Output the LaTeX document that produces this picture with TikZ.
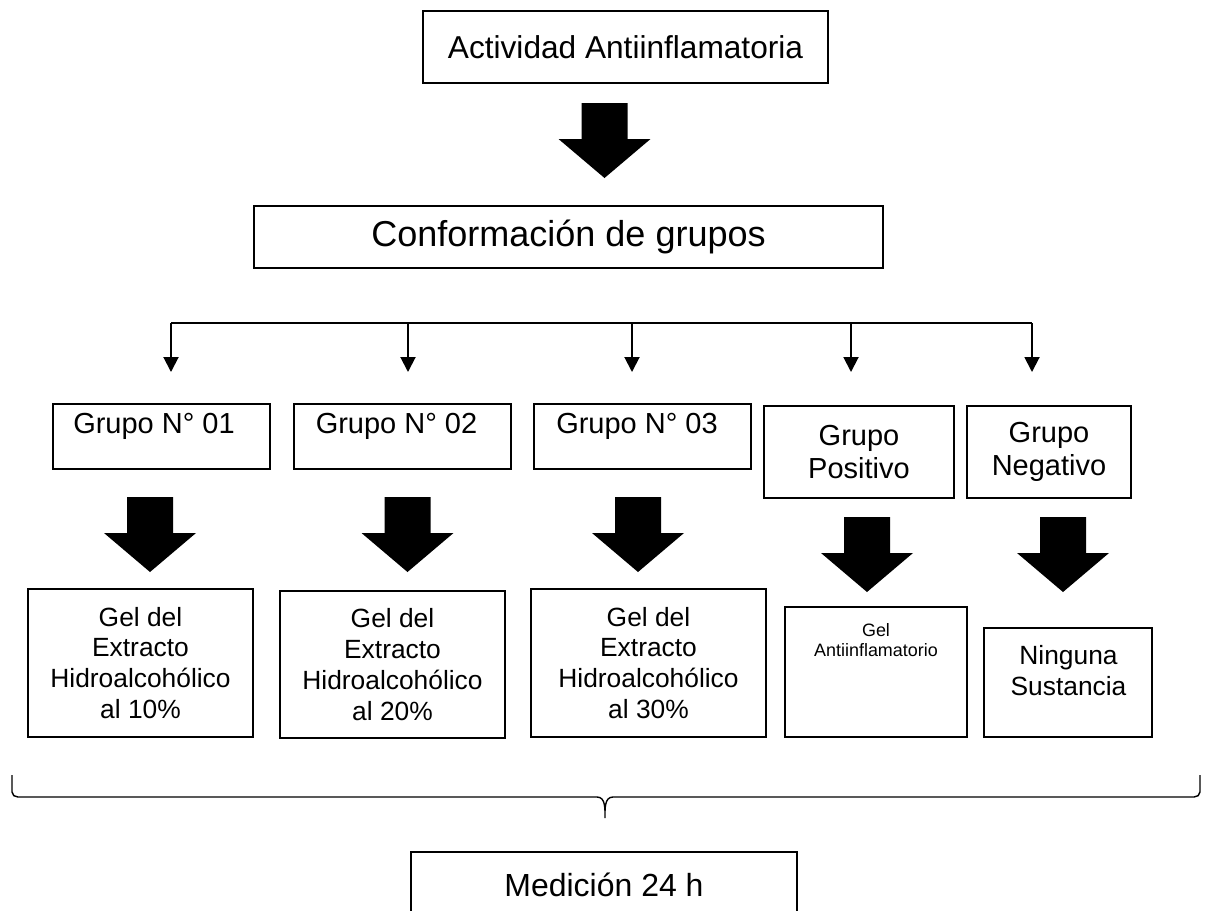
\documentclass[tikz,border=0pt]{standalone}
\usepackage{fontspec}
\setmainfont{Liberation Sans}
\usepackage{tikz}
\usetikzlibrary{positioning, arrows.meta}

\tikzset{
  box/.style={draw, line width=0.8pt, inner sep=0pt, align=center},
  grp/.style={font=\fontsize{16.5}{18.7}\selectfont, align=center, inner sep=0pt},
  gel/.style={font=\fontsize{15}{17.6}\selectfont},
  thinarrow/.style={-{Triangle[width=3mm,length=3mm]}, line width=1.1pt},
  pics/bigarrow/.style={code={
    \fill (-0.46,0) -- (-0.46,-0.72) -- (-0.92,-0.72) -- (0,-1.5)
      -- (0.92,-0.72) -- (0.46,-0.72) -- (0.46,0) -- cycle;}}
}

\begin{document}
\begin{tikzpicture}
\useasboundingbox (0,0) rectangle (24.1,-18.2);
\clip (0,0) rectangle (24.1,-18.2);

% top part
\node[box, minimum width=8.1cm, minimum height=1.44cm, font=\fontsize{18}{21}\selectfont] (act) at (12.51,-0.94) {Actividad Antiinflamatoria};
\pic at (12.09,-2.06) {bigarrow};
\node[box, minimum width=12.58cm, minimum height=1.24cm, font=\fontsize{20.5}{24}\selectfont] (conf) at (11.37,-4.74) {Conformación de grupos};

% split into the five groups
\coordinate (j1) at (3.42,-6.46);
\coordinate (j2) at (8.16,-6.46);
\coordinate (j3) at (12.64,-6.46);
\coordinate (j4) at (17.02,-6.46);
\coordinate (j5) at (20.64,-6.46);
\coordinate (e1) at (3.42,-7.44);
\coordinate (e2) at (8.16,-7.44);
\coordinate (e3) at (12.64,-7.44);
\coordinate (e4) at (17.02,-7.44);
\coordinate (e5) at (20.64,-7.44);
\draw[line width=0.8pt] (j1) -- (j5);
\draw[thinarrow] (j1) -- (e1);
\draw[thinarrow] (j2) -- (e2);
\draw[thinarrow] (j3) -- (e3);
\draw[thinarrow] (j4) -- (e4);
\draw[thinarrow] (j5) -- (e5);

% groups
\node[box, minimum width=4.34cm, minimum height=1.3cm] (g1) at (3.23,-8.73) {};
\node[grp] (g1t) at (3.08,-8.53) {Grupo N° 01};
\node[box, minimum width=4.34cm, minimum height=1.3cm] (g2) at (8.05,-8.73) {};
\node[grp] (g2t) at (7.93,-8.53) {Grupo N° 02};
\node[box, minimum width=4.34cm, minimum height=1.3cm] (g3) at (12.85,-8.73) {};
\node[grp] (g3t) at (12.74,-8.53) {Grupo N° 03};
\node[box, grp, draw, minimum width=3.8cm, minimum height=1.84cm] (gpos) at (17.18,-9.04) {Grupo\\Positivo};
\node[box, grp, draw, minimum width=3.28cm, minimum height=1.84cm] (gneg) at (20.98,-9.04) {Grupo\\Negativo};

\pic at (3.0,-9.94) {bigarrow};
\pic at (8.15,-9.94) {bigarrow};
\pic at (12.76,-9.94) {bigarrow};
\pic at (17.34,-10.34) {bigarrow};
\pic at (21.26,-10.34) {bigarrow};

% what each group receives
\node[box, gel, minimum width=4.5cm, minimum height=2.96cm] (gel1) at (2.81,-13.26) {Gel del\\Extracto\\Hidroalcohólico\\al 10\%};
\node[box, gel, minimum width=4.5cm, minimum height=2.94cm] (gel2) at (7.85,-13.29) {Gel del\\Extracto\\Hidroalcohólico\\al 20\%};
\node[box, gel, minimum width=4.7cm, minimum height=2.96cm] (gel3) at (12.97,-13.26) {Gel del\\Extracto\\Hidroalcohólico\\al 30\%};
\node[box, minimum width=3.64cm, minimum height=2.6cm] (gelanti) at (17.52,-13.44) {};
\node[align=center, inner sep=0pt, font=\fontsize{10.2}{11.3}\selectfont] (gelantit) at (17.52,-12.8) {Gel\\Antiinflamatorio};
\node[box, minimum width=3.36cm, minimum height=2.18cm] (ning) at (21.36,-13.65) {};
\node[gel, align=center, inner sep=0pt] (ningt) at (21.37,-13.41) {Ninguna\\Sustancia};

% brace and measurement
\coordinate (bl) at (0.24,-15.5);
\coordinate (br) at (24.0,-15.5);
\coordinate (bt) at (12.1,-16.36);
\draw[line width=0.8pt] (bl) -- (0.24,-15.84) to[out=-90,in=180] (0.36,-15.94) -- (11.94,-15.94)
  to[out=0,in=90] (bt) to[out=90,in=180] (12.26,-15.94) -- (23.88,-15.94) to[out=0,in=-90] (24.0,-15.84) -- (br);
\node[box, minimum width=7.72cm, minimum height=1.3cm, font=\fontsize{18.2}{21}\selectfont] (med) at (12.08,-17.69) {Medición 24 h};
\end{tikzpicture}
\end{document}
